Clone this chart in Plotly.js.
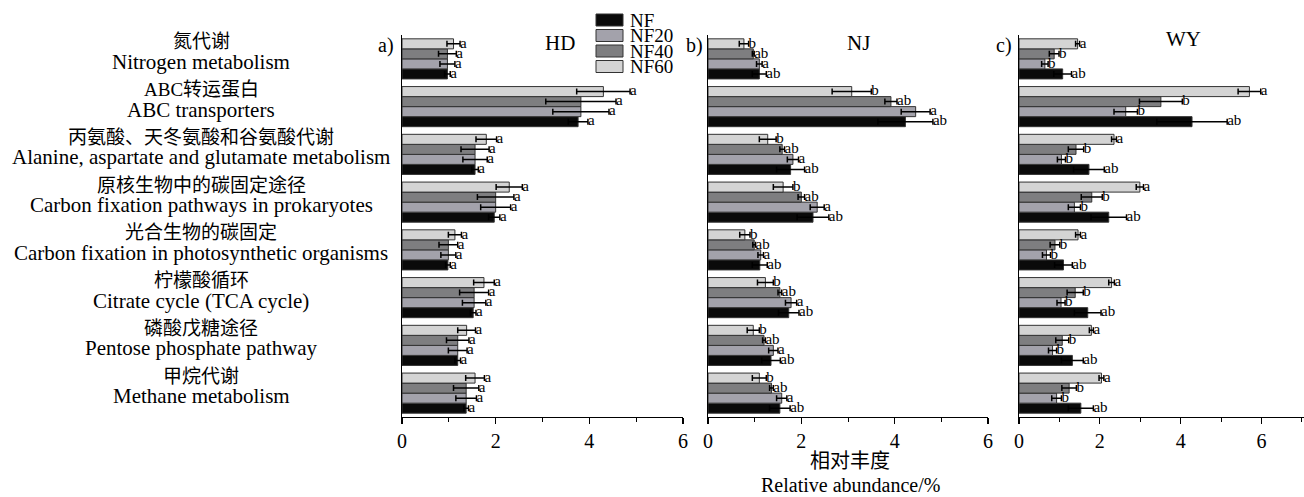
<!DOCTYPE html>
<html>
<head>
<meta charset="utf-8">
<script src="https://cdn.plot.ly/plotly-3.0.1.min.js"></script>
<style>html,body{margin:0;padding:0;background:#fff;}#chart{width:1304px;height:497px;}</style>
</head>
<body>
<div id="chart"></div>
<script>
// ---------- data ----------
const catZh = ["氮代谢","ABC转运蛋白","丙氨酸、天冬氨酸和谷氨酸代谢","原核生物中的碳固定途径","光合生物的碳固定","柠檬酸循环","磷酸戊糖途径","甲烷代谢"];
const catEn = ["Nitrogen metabolism","ABC transporters","Alanine, aspartate and glutamate metabolism","Carbon fixation pathways in prokaryotes","Carbon fixation in photosynthetic organisms","Citrate cycle (TCA cycle)","Pentose phosphate pathway","Methane metabolism"];
const seriesNames = ["NF","NF20","NF40","NF60"];
const sites = ["HD","NJ","WY"];
const panelTags = ["a)","b)","c)"];

// HD
const HD_NF      = [0.97, 3.76, 1.56, 1.97, 0.98, 1.52, 1.19, 1.37];
const HD_NF_err  = [0.06, 0.21, 0.07, 0.12, 0.05, 0.06, 0.06, 0.05];
const HD_NF20    = [0.97, 3.82, 1.56, 2.00, 0.99, 1.54, 1.19, 1.37];
const HD_NF20_err= [0.16, 0.60, 0.26, 0.32, 0.16, 0.25, 0.20, 0.22];
const HD_NF40    = [0.97, 3.82, 1.56, 2.00, 0.99, 1.54, 1.19, 1.37];
const HD_NF40_err= [0.19, 0.75, 0.30, 0.39, 0.20, 0.31, 0.24, 0.27];
const HD_NF60    = [1.10, 4.30, 1.80, 2.29, 1.13, 1.75, 1.38, 1.56];
const HD_NF60_err= [0.14, 0.57, 0.22, 0.28, 0.14, 0.22, 0.19, 0.20];
const HD_letters = ["a","a","a","a"];   // NF, NF20, NF40, NF60

// NJ
const NJ_NF      = [1.10, 4.23, 1.77, 2.25, 1.11, 1.73, 1.35, 1.54];
const NJ_NF_err  = [0.15, 0.59, 0.30, 0.34, 0.16, 0.22, 0.20, 0.22];
const NJ_NF20    = [1.10, 4.45, 1.82, 2.34, 1.13, 1.78, 1.40, 1.58];
const NJ_NF20_err= [0.06, 0.31, 0.12, 0.15, 0.06, 0.12, 0.10, 0.11];
const NJ_NF40    = [0.97, 3.92, 1.59, 2.00, 0.99, 1.54, 1.20, 1.36];
const NJ_NF40_err= [0.02, 0.13, 0.05, 0.07, 0.03, 0.04, 0.03, 0.04];
const NJ_NF60    = [0.77, 3.08, 1.28, 1.61, 0.79, 1.23, 0.97, 1.10];
const NJ_NF60_err= [0.10, 0.42, 0.18, 0.21, 0.11, 0.17, 0.13, 0.15];
const NJ_letters = ["ab","a","ab","b"];

// WY
const WY_NF      = [1.08, 4.28, 1.73, 2.22, 1.10, 1.70, 1.32, 1.53];
const WY_NF_err  = [0.22, 0.87, 0.38, 0.44, 0.22, 0.33, 0.27, 0.31];
const WY_NF20    = [0.64, 2.64, 1.05, 1.37, 0.68, 1.04, 0.83, 0.93];
const WY_NF20_err= [0.08, 0.29, 0.10, 0.15, 0.10, 0.10, 0.10, 0.12];
const WY_NF40    = [0.87, 3.51, 1.41, 1.80, 0.89, 1.39, 1.07, 1.24];
const WY_NF40_err= [0.12, 0.53, 0.19, 0.26, 0.12, 0.20, 0.16, 0.18];
const WY_NF60    = [1.45, 5.70, 2.35, 2.99, 1.46, 2.29, 1.79, 2.04];
const WY_NF60_err= [0.05, 0.28, 0.06, 0.09, 0.06, 0.07, 0.05, 0.06];
const WY_letters = ["ab","b","b","a"];

const xTickVals = [0, 2, 4, 6];

// ---------- styling ----------
const W = 1304, H = 497;
const FONT = "Liberation Serif, Noto Sans CJK SC, serif";
const SERIF = "Liberation Serif";
const colors = {NF:"#0a0a0a", NF20:"#a3a2ab", NF40:"#7e7e80", NF60:"#d4d4d4"};
const offsets = {NF:0.315, NF20:0.105, NF40:-0.105, NF60:-0.315};
const barW = 0.21;
const plotTop = 35, plotBot = 417;
const py = p => 1 - p / H;
const px = p => p / W;
const xDomains = [[px(402), px(683)], [px(708), px(988)], [px(1019), 1]];
const xRanges = [[0, 6], [0, 6], [0, 7.05]];

const siteData = {
  HD: {NF:[HD_NF,HD_NF_err], NF20:[HD_NF20,HD_NF20_err], NF40:[HD_NF40,HD_NF40_err], NF60:[HD_NF60,HD_NF60_err], letters:HD_letters},
  NJ: {NF:[NJ_NF,NJ_NF_err], NF20:[NJ_NF20,NJ_NF20_err], NF40:[NJ_NF40,NJ_NF40_err], NF60:[NJ_NF60,NJ_NF60_err], letters:NJ_letters},
  WY: {NF:[WY_NF,WY_NF_err], NF20:[WY_NF20,WY_NF20_err], NF40:[WY_NF40,WY_NF40_err], NF60:[WY_NF60,WY_NF60_err], letters:WY_letters}
};

const idx = catZh.map((_, i) => i);
const traces = [];
sites.forEach((site, p) => {
  const xa = p === 0 ? "x" : "x" + (p + 1);
  const ya = p === 0 ? "y" : "y" + (p + 1);
  seriesNames.forEach((s, k) => {
    const [vals, errs] = siteData[site][s];
    const yy = idx.map(i => i + offsets[s]);
    traces.push({
      type: "bar", orientation: "h", x: vals, y: yy, width: barW,
      xaxis: xa, yaxis: ya, name: s, showlegend: false,
      marker: {color: colors[s], line: {color: "#333333", width: 1}},
      error_x: {type: "data", array: errs, visible: true, color: "#000", thickness: 1.5, width: 3},
      hoverinfo: "skip"
    });
    traces.push({
      type: "scatter", mode: "text", x: vals.map((v, i) => v + errs[i]), y: yy,
      xaxis: xa, yaxis: ya, showlegend: false, cliponaxis: false,
      text: vals.map(() => siteData[site].letters[k]),
      textposition: "middle right",
      textfont: {family: SERIF, size: 15, color: "#000"},
      hoverinfo: "skip"
    });
  });
});

const layout = {
  width: W, height: H,
  margin: {l: 0, r: 0, t: 0, b: 0},
  paper_bgcolor: "#fff", plot_bgcolor: "#fff",
  barmode: "overlay",
  showlegend: false,
  font: {family: SERIF, size: 18, color: "#000"},
  annotations: [], shapes: []
};

[0, 1, 2].forEach(p => {
  const sx = p === 0 ? "" : String(p + 1);
  layout["xaxis" + sx] = {
    domain: xDomains[p], range: xRanges[p], anchor: "y" + sx,
    showline: true, linecolor: "#000", linewidth: 1.2,
    ticks: "outside", ticklen: 6, tickwidth: 1.2, tickcolor: "#000",
    tickvals: xTickVals, ticktext: xTickVals.map(String),
    tickfont: {family: SERIF, size: 20, color: "#000"},
    minor: {dtick: 1, tick0: 0, ticks: "outside", ticklen: 4, tickwidth: 1, tickcolor: "#000", showgrid: false},
    showgrid: false, zeroline: false, automargin: false, fixedrange: true
  };
  layout["yaxis" + sx] = {
    domain: [py(plotBot), py(plotTop)], range: [7.5, -0.5], anchor: "x" + sx,
    showline: true, linecolor: "#000", linewidth: 1.2,
    showticklabels: false, ticks: "", showgrid: false, zeroline: false,
    automargin: false, fixedrange: true
  };
});

// category labels
catZh.forEach((zh, i) => {
  layout.annotations.push({xref: "paper", yref: "y", x: px(201), y: i, xanchor: "center", yanchor: "middle",
    yshift: 17, text: zh, showarrow: false, font: {family: FONT, size: 19}});
  layout.annotations.push({xref: "paper", yref: "y", x: px(201), y: i, xanchor: "center", yanchor: "middle",
    yshift: -3, text: catEn[i], showarrow: false, font: {family: SERIF, size: 21}});
});

// panel tags and site titles
const tagX = [386, 694, 1004];
const siteX = [560, 858, 1183];
const siteY = [43, 43, 39];
[0, 1, 2].forEach(p => {
  layout.annotations.push({xref: "paper", yref: "paper", x: px(tagX[p]), y: py(45), xanchor: "center", yanchor: "middle",
    text: panelTags[p], showarrow: false, font: {family: SERIF, size: 20}});
  layout.annotations.push({xref: "paper", yref: "paper", x: px(siteX[p]), y: py(siteY[p]), xanchor: "center", yanchor: "middle",
    text: sites[p], showarrow: false, font: {family: SERIF, size: 21}});
});

// x-axis title
layout.annotations.push({xref: "paper", yref: "paper", x: px(850), y: py(461), xanchor: "center", yanchor: "middle",
  text: "相对丰度", showarrow: false, font: {family: FONT, size: 20}});
layout.annotations.push({xref: "paper", yref: "paper", x: px(850), y: py(485), xanchor: "center", yanchor: "middle",
  text: "Relative abundance/%", showarrow: false, font: {family: SERIF, size: 20}});

// manual legend
const legY = [20, 35.5, 51, 66.5];
seriesNames.forEach((s, k) => {
  layout.shapes.push({type: "rect", xref: "paper", yref: "paper",
    x0: px(596), x1: px(623), y0: py(legY[k] + 6), y1: py(legY[k] - 6),
    fillcolor: colors[s], line: {color: "#333", width: 1}});
  layout.annotations.push({xref: "paper", yref: "paper", x: px(628), y: py(legY[k]), xanchor: "left", yanchor: "middle",
    text: s, showarrow: false, font: {family: SERIF, size: 19}});
});

Plotly.newPlot("chart", traces, layout, {staticPlot: true, displayModeBar: false});
</script>
</body>
</html>
